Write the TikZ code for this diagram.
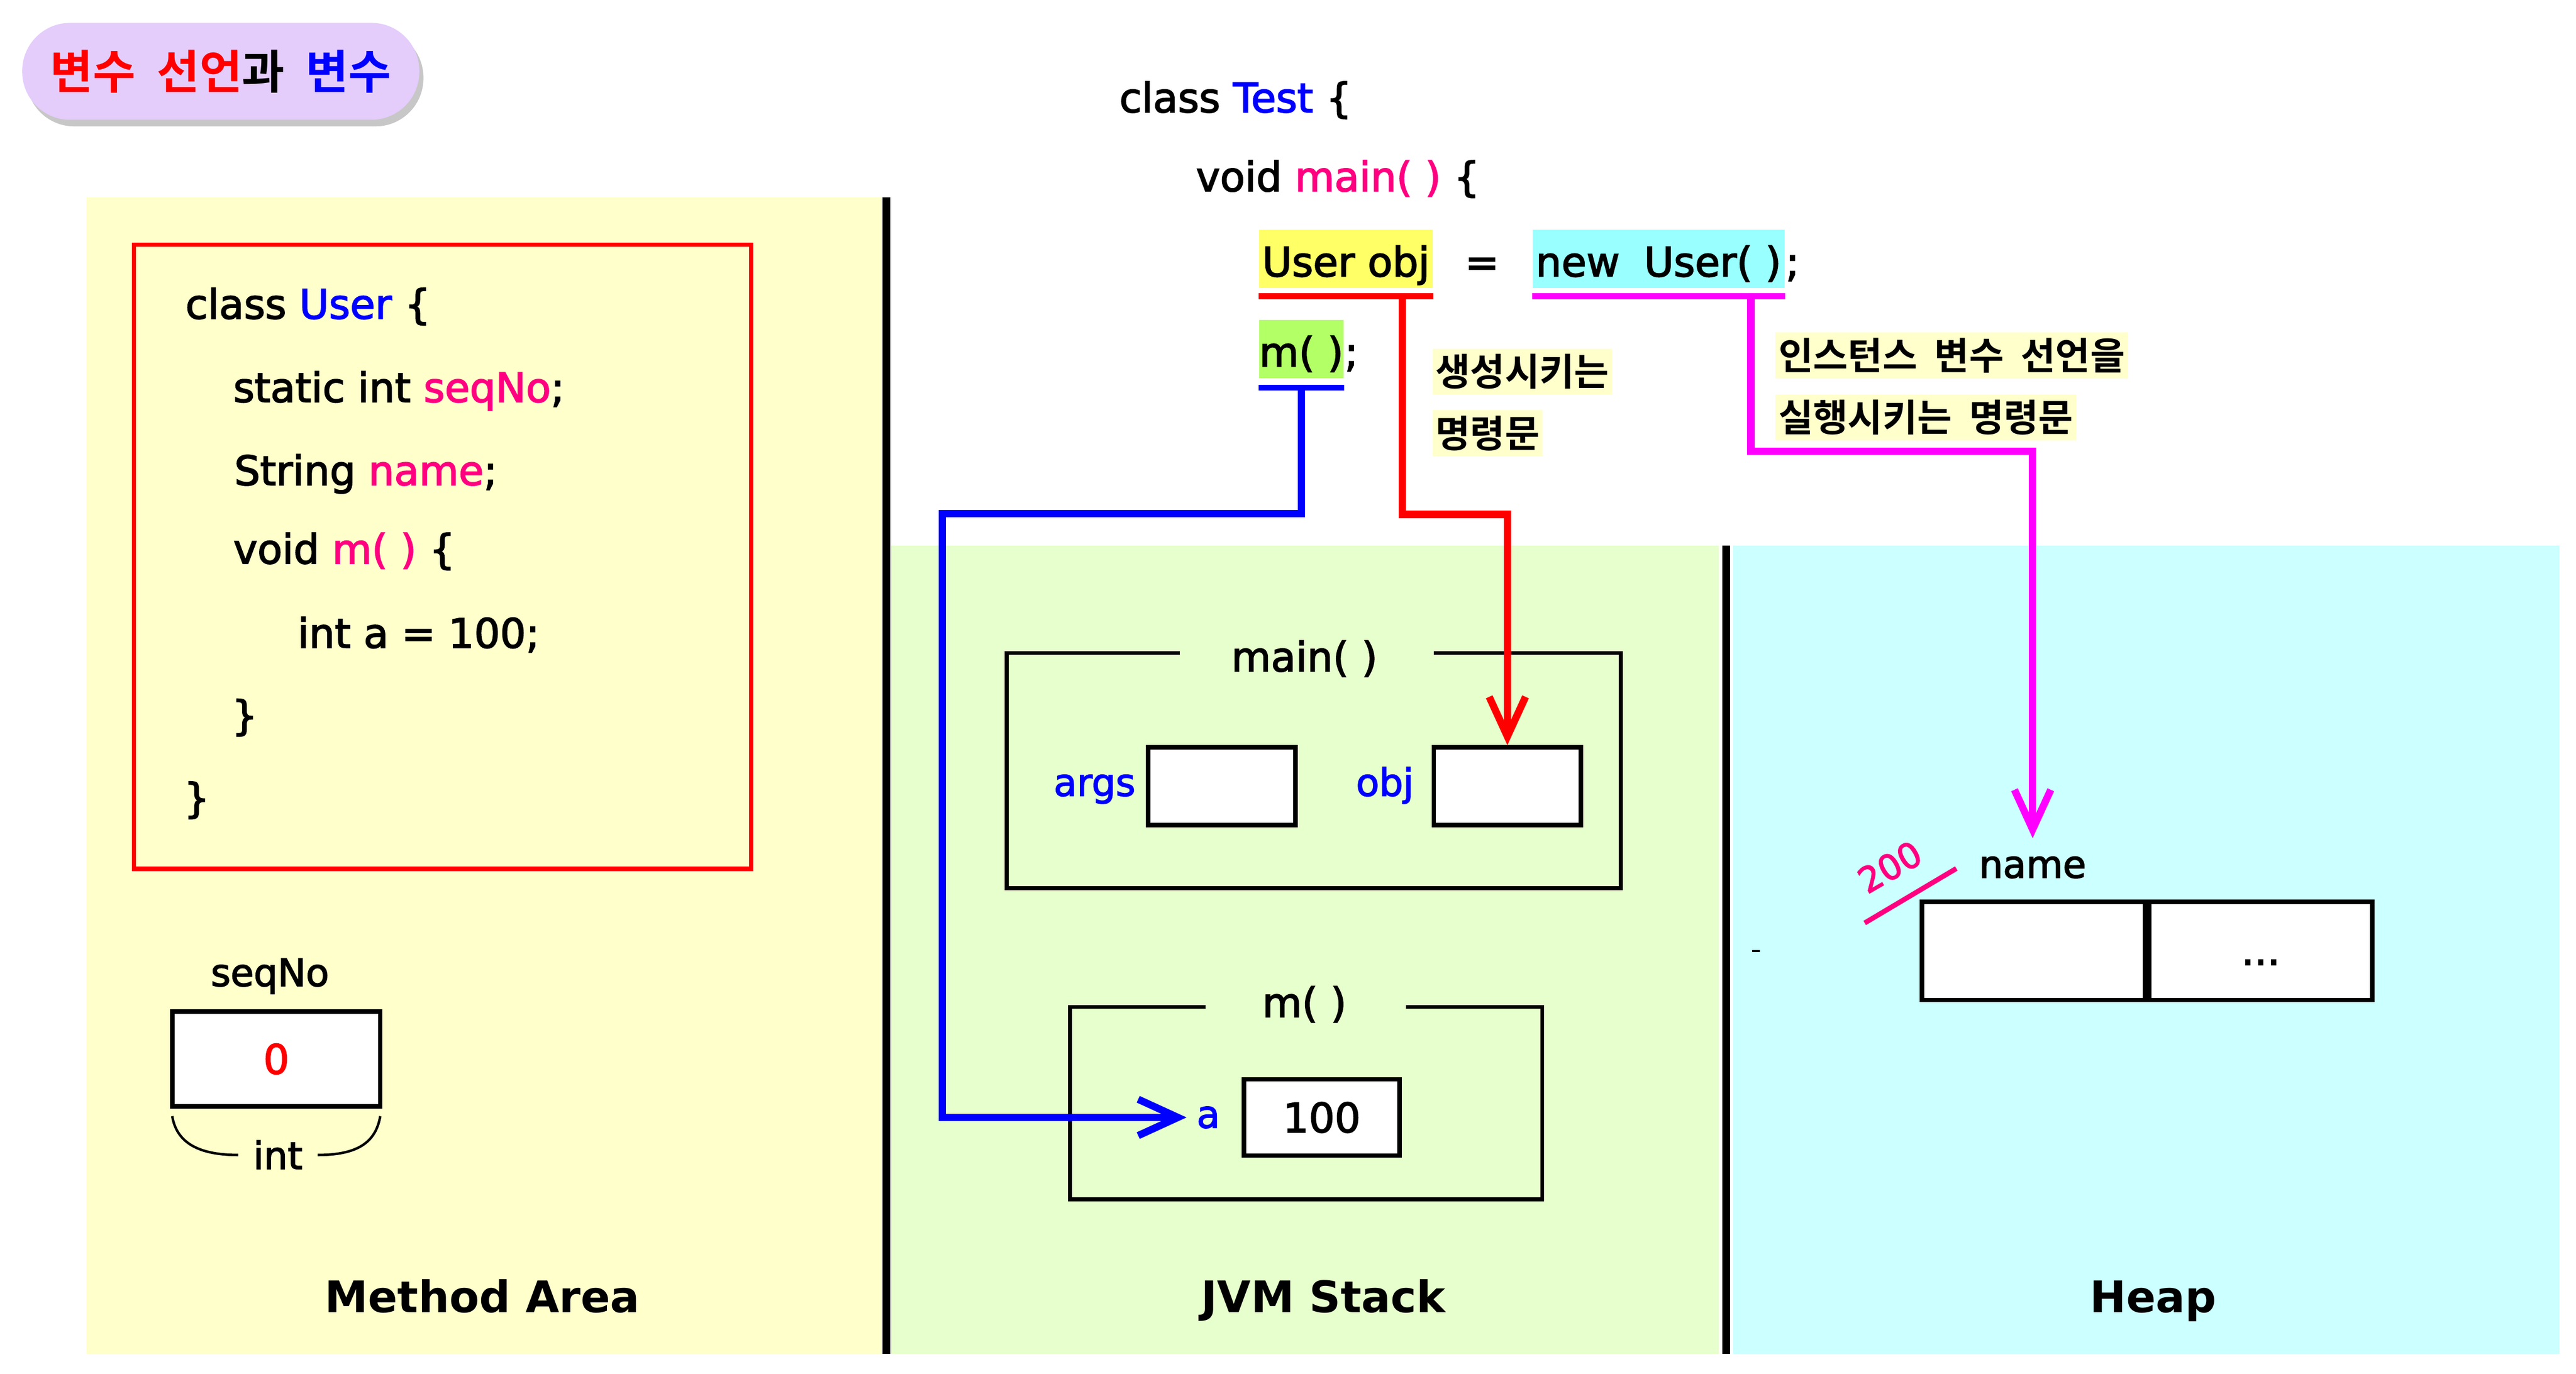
\documentclass[tikz,border=0pt]{standalone}
\usepackage{fontspec}
\setmainfont{DejaVu Sans}
\newfontfamily\codefam{DejaVu Sans}[FakeBold=2.5]
\newfontfamily\kr{Noto Sans CJK KR Bold}[WordSpace=2.0]
\usetikzlibrary{arrows.meta,calc,shadows}

\definecolor{areayellow}{HTML}{FFFFCC}
\definecolor{areagreen}{HTML}{E6FFCC}
\definecolor{areacyan}{HTML}{CCFFFF}
\definecolor{hlyellow}{HTML}{FFFF66}
\definecolor{hlcyan}{HTML}{99FFFF}
\definecolor{hlgreen}{HTML}{B3FF66}
\definecolor{pilllilac}{HTML}{E4CCFB}
\definecolor{codepink}{HTML}{FF0080}
\definecolor{codeblue}{HTML}{0000FF}
\definecolor{linkred}{HTML}{FF0000}
\definecolor{linkmag}{HTML}{FF00FF}

\newcommand{\codefont}{\fontsize{14}{17}\selectfont\codefam}
\newcommand{\lblfont}{\fontsize{13}{16}\selectfont\codefam}
\newcommand{\areafont}{\fontsize{15}{18}\selectfont\bfseries}
\newcommand{\notefont}{\fontsize{13}{16}\selectfont\kr}

\tikzset{
  codeline/.style={anchor=base west, inner sep=0, font=\codefont},
  lbl/.style={anchor=base, font=\lblfont},
  cell/.style={draw, line width=0.054cm, fill=white},
  hl/.style={anchor=base west, inner xsep=0, inner ysep=0, text height=0.564cm, text depth=0.142cm, font=\codefont},
  notebox/.style={anchor=west, fill=areayellow, inner xsep=1pt, inner ysep=0, minimum height=0.556cm, font=\notefont},
  stackframe/.style={line width=0.048cm},
  uline/.style={line width=0.072cm},
  linkline/.style={line width=0.088cm, -{Straight Barb[length=0.48cm,width=0.44cm]}}
}

\begin{document}
\begin{tikzpicture}[x=0.02cm, y=-0.02cm]
  \useasboundingbox (0,0) rectangle (1560.1,831.9);

  \fill[areayellow] (52.5,119.4) rectangle (534,819.9);
  \fill[areagreen] (539.5,330.3) rectangle (1041,819.9);
  \fill[areacyan] (1049.5,330.3) rectangle (1550,819.9);
  \draw[line width=0.094cm] (536.7,119.4) -- (536.7,819.9);
  \draw[line width=0.094cm] (1045.3,330.3) -- (1045.3,819.9);

  \node[fill=pilllilac, rounded corners=0.58cm, minimum width=4.81cm, minimum height=1.174cm,
        drop shadow={shadow xshift=0.05cm, shadow yshift=-0.08cm, fill=black, opacity=0.22},
        font=\fontsize{16}{19}\selectfont\kr] (title) at (133.7,43.2)
        {\textcolor{linkred}{변수 선언}과 \textcolor{codeblue}{변수}};

  % method area
  \draw[linkred, line width=0.052cm] (81.2,148.3) rectangle (455,526.2);
  \node[codeline] (clsuser) at (112,193) {class \textcolor{codeblue}{User} \{};
  \node[codeline] (seqline) at (141,243.5) {static int \textcolor{codepink}{seqNo};};
  \node[codeline] (nameline) at (141.6,293.8) {String \textcolor{codepink}{name};};
  \node[codeline] (mline) at (141,341.3) {void \textcolor{codepink}{m( )} \{};
  \node[codeline] (aline) at (180,392.3) {int a = 100;};
  \node[codeline] (mclose) at (140,442) {\}};
  \node[codeline] (clsclose) at (111,492) {\}};

  \node[lbl] (seqlab) at (163.5,597.2) {seqNo};
  \node[cell, minimum width=2.518cm, minimum height=1.146cm, font=\codefont, text=linkred] (seqbox) at (167.35,641.35) {0};
  \draw[line width=0.03cm] (104.3,676) .. controls (107,692) and (120,699.5) .. (144.3,699.5);
  \draw[line width=0.03cm] (192.4,699.5) .. controls (216.5,699.5) and (227.5,692) .. (230.3,676);
  \node[lbl] (intlab) at (168.3,708) {int};

  % jvm stack
  \draw[stackframe] (714.6,395.5) -| (609.7,538) -| (981.5,395.5) -- (868.3,395.5);
  \node[lbl, font=\codefont] (mainlab) at (790,406.6) {main( )};
  \node[cell, minimum width=1.784cm, minimum height=0.942cm] (argsbox) at (739.9,476.2) {};
  \node[cell, minimum width=1.784cm, minimum height=0.942cm] (objbox) at (912.9,476.2) {};
  \node[lbl, text=codeblue] (argslab) at (662.9,482) {args};
  \node[lbl, text=codeblue] (objlab) at (838.7,482) {obj};

  \draw[stackframe] (730,609.8) -| (648,726.3) -| (934,609.8) -- (851.5,609.8);
  \node[lbl, font=\codefont] (mlab) at (790,616) {m( )};
  \node[cell, minimum width=1.888cm, minimum height=0.924cm, font=\codefont] (box100) at (800.5,676.8) {100};
  \node[lbl, text=codeblue] (alab) at (731.8,683) {a};

  % heap
  \node[lbl] (namelab) at (1231,531.6) {name};
  \node[cell, minimum width=2.7cm, minimum height=1.19cm] (namecell) at (1231.5,575.9) {};
  \node[cell, minimum width=2.7cm, minimum height=1.19cm, anchor=west, font=\codefont,
        text height=0.39cm, text depth=0.05cm] (restcell) at (namecell.east) {...};
  \node[text=codepink, rotate=30, inner sep=0, font=\fontsize{12}{14}\selectfont\codefam] (addr) at (1144.5,525) {200};
  \draw[codepink, line width=0.06cm] (1129.3,559) -- (1184.8,526);
  \fill (1061.2,575.5) rectangle (1065.7,576.6);

  % test class
  \node[codeline] (testline) at (677.6,68) {class \textcolor{codeblue}{Test} \{};
  \node[codeline] (mainline) at (724,115.8) {void \textcolor{codepink}{main( )} \{};
  \node[hl, fill=hlyellow, minimum width=2.1cm] (userobj) at (762.3,167.4) {User obj};
  \node[anchor=base, font=\codefont] (assign) at (897.6,167.4) {=};
  \node[hl, fill=hlcyan, minimum width=3.052cm] (newuser) at (927.8,167.4) {new\hspace{0.6em}User( )};
  \node[codeline] (newsemi) at (newuser.base east) {;};
  \node[hl, fill=hlgreen, minimum width=0.962cm] (mcall) at (762.3,222) {m( )};
  \node[codeline] (msemi) at (mcall.base east) {;};

  \draw[uline, linkred] ($(userobj.south west)+(0,4.5)$) -- ($(userobj.south east)+(0,4.5)$);
  \draw[uline, linkmag] ($(newuser.south west)+(0,4.5)$) -- ($(newuser.south east)+(0,4.5)$);
  \draw[uline, codeblue] ($(mcall.south west)+(0,5.3)$) -- ($(mcall.south east)+(0,5.3)$);

  \node[notebox] (gennote1) at (867.3,225.1) {생성시키는};
  \node[notebox] (gennote2) at (867.3,262.4) {명령문};
  \node[notebox] (instnote1) at (1075,215.3) {인스턴스 변수 선언을};
  \node[notebox] (instnote2) at (1075,252.9) {실행시키는 명령문};

  \coordinate (redfoot) at ($(userobj.south west)!0.822!(userobj.south east)+(0,4.5)$);
  \coordinate (magfoot) at ($(newuser.south west)!0.865!(newuser.south east)+(0,4.5)$);
  \coordinate (bluefoot) at ($(mcall.south)+(0,5.3)$);
  \coordinate (bluebend) at (570.6,311.2);
  \draw[linkline, linkred] (redfoot) -- ++(0,132.2) -| (objbox.north);
  \draw[linkline, codeblue] (bluefoot) |- (bluebend) |- (alab.west);
  \draw[linkline, linkmag] (magfoot) -- ++(0,94) -| ([yshift=0.1cm]namelab.north);

  \node[anchor=base, font=\areafont] (methodarea) at (292,794.8) {Method Area};
  \node[anchor=base, font=\areafont] (jvmstack) at (801.5,794.8) {JVM Stack};
  \node[anchor=base, font=\areafont] (heap) at (1304,794.8) {Heap};
\end{tikzpicture}
\end{document}
